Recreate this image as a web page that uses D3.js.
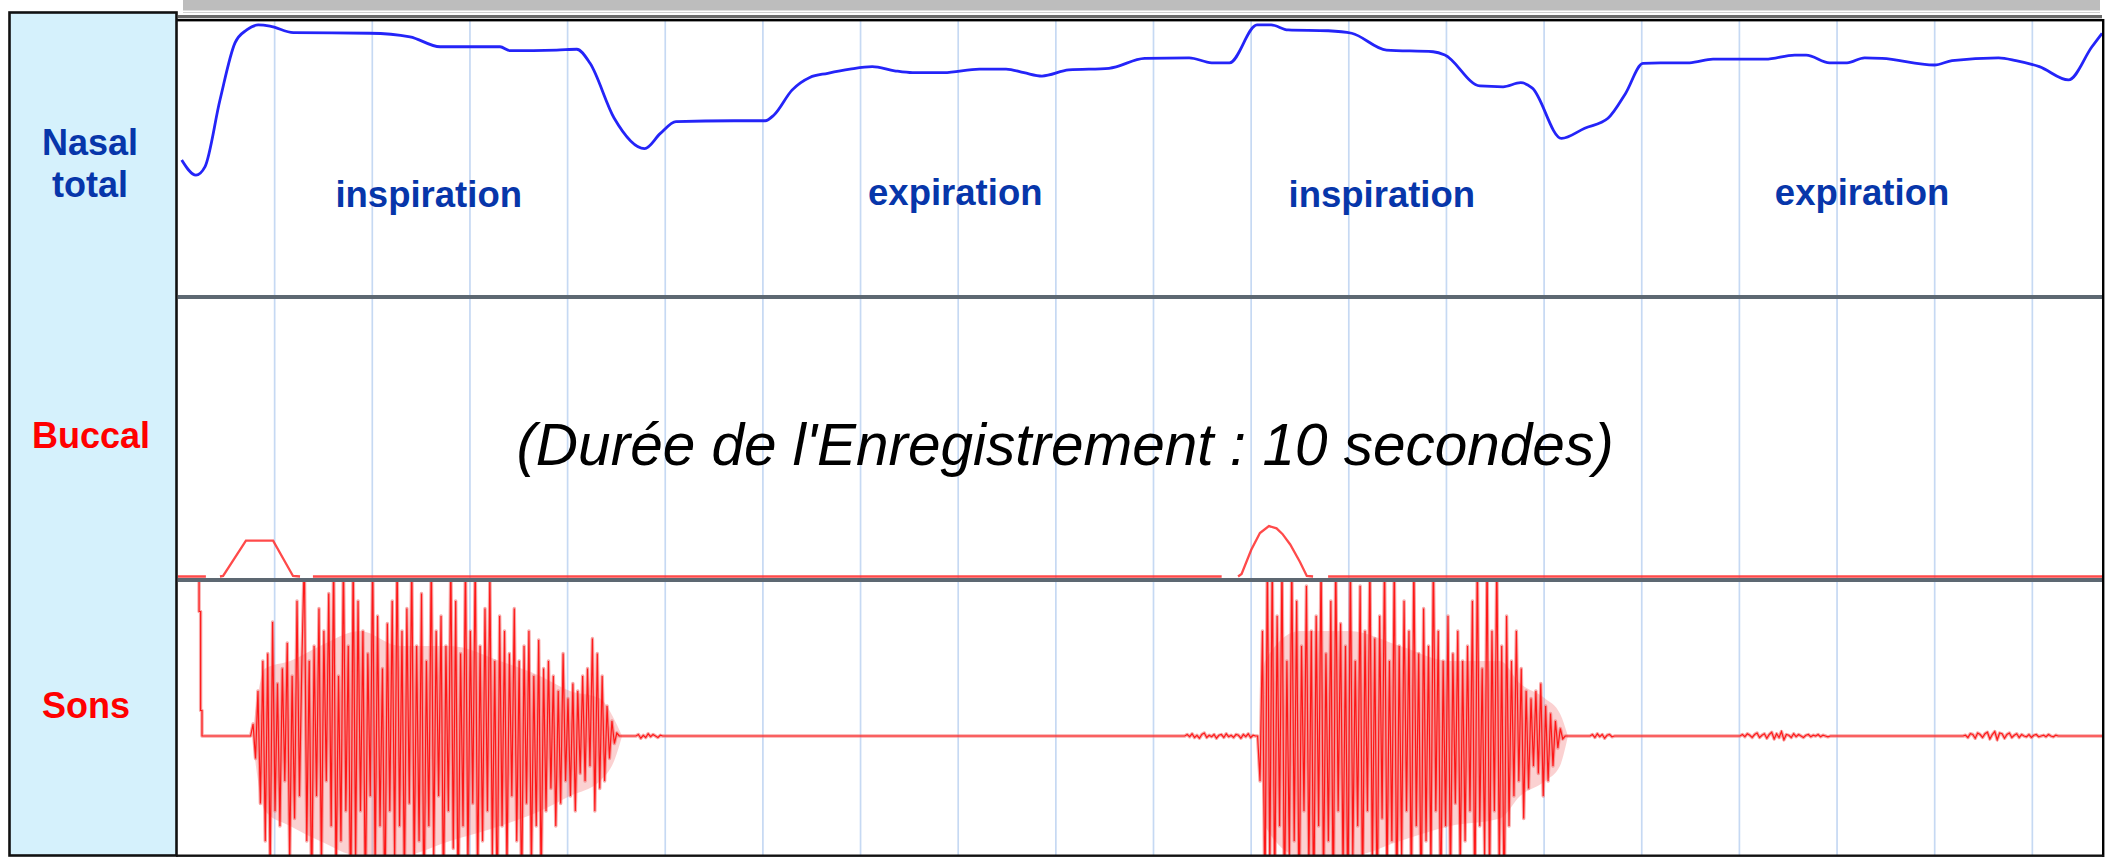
<!DOCTYPE html>
<html><head><meta charset="utf-8">
<script src="https://cdn.jsdelivr.net/npm/d3@7/dist/d3.min.js"></script>
<style>html,body{margin:0;padding:0;background:#fff}svg{display:block}</style>
</head><body>
<script>
// ---------------- DATA ----------------
const panelLabels = [["Nasal","total"],["Buccal"],["Sons"]];
const phaseLabels = ["inspiration","expiration","inspiration","expiration"];
const phaseTimes  = [1.289, 3.985, 6.169, 8.628];
const titleText = "(Durée de l'Enregistrement : 10 secondes)";
const gridStep = 0.5; // seconds
const duration = 9.86;

// Nasal total flow (arbitrary units 0-100)
const nasalT = [0.024,0.097,0.143,0.220,0.297,0.357,0.416,0.476,0.596,0.988,1.193,1.347,1.654,1.705,1.944,2.047,2.115,2.238,2.394,2.475,2.555,2.852,3.012,3.057,3.149,3.240,3.332,3.446,3.560,3.674,3.766,3.926,4.109,4.245,4.337,4.429,4.566,4.772,4.955,5.183,5.298,5.389,5.530,5.602,5.689,5.895,6.015,6.193,6.432,6.492,6.671,6.790,6.880,6.940,7.089,7.208,7.327,7.417,7.506,7.596,7.745,7.865,8.133,8.283,8.342,8.462,8.551,8.641,8.730,8.999,9.089,9.327,9.416,9.536,9.685,9.805,9.857];
const nasalV = [49.3,43.8,46.8,71.0,91.7,96.4,98.2,97.8,95.4,95.2,93.9,90.3,90.3,88.9,89.1,89.4,84.3,64.5,53.4,58.9,63.2,63.5,63.5,65.6,74.6,79.2,80.7,82.2,83.1,81.6,80.9,80.9,82.2,82.2,80.9,79.7,81.9,82.5,86.1,86.3,84.5,84.5,98.2,98.2,96.4,96.1,95.2,89.1,88.5,87.3,76.1,75.8,77.3,75.3,57.1,60.8,64.4,73.4,84.3,84.5,84.5,85.8,85.8,87.3,87.3,84.5,84.5,86.3,86.1,83.7,85.3,86.3,85.3,83.1,78.3,90.3,95.2];

// Buccal flow (null = gap in trace)
const buccalT = [0.005,0.148,0.184,0.220,0.236,0.353,0.492,0.594,0.630,0.663,0.696,5.349,5.390,5.433,5.451,5.500,5.545,5.591,5.630,5.660,5.700,5.750,5.785,5.817,5.855,5.894,9.860];
const buccalV = [0,0,null,0,0.2,12.9,12.9,0.2,0,null,0,0,null,0,0.9,9.5,15.6,18.1,17.3,15.3,11.5,5.2,0.2,0,null,0,0];

// Sound signal (normalised amplitude)
const sampleStep = 0.0125;
const onsetT = [0.005,0.113,0.113,0.121,0.121,0.128,0.128];
const onsetV = [1.2,1.2,0.83,0.83,0.17,0.17,0];
const burst1Start = 0.377;
const burst1 = [0,0.08,-0.15,0.3,-0.45,0.5,-0.7,
 0.55,-0.9,0.76,-0.5,0.35,-0.6,0.45,-0.3,0.62,-0.85,0.4,-0.55,0.9,-0.4,0.5,
 1.2,-0.7,0.5,-1.1,0.6,-0.4,0.85,-0.9,0.7,-0.3,0.95,-0.6,1.2,-1.0,0.4,-0.7,1.2,-0.5,0.6,-1.2,
 1.2,-0.8,0.9,-0.5,0.7,-1.1,0.55,-0.4,1.2,-0.9,0.8,-0.6,0.45,-1.2,0.75,-0.5,0.9,-0.8,1.2,-0.6,
 0.7,-1.0,0.85,-0.45,1.2,-0.9,0.6,-0.7,0.95,-1.2,0.5,-0.6,1.2,-0.8,0.7,-0.4,0.8,-1.1,0.6,-0.5,
 1.2,-0.75,0.9,-1.2,0.55,-0.6,1.2,-0.9,0.7,-0.45,1.2,-1.0,0.6,-0.7,0.85,-0.5,1.1,-0.8,0.5,-1.2,
 0.8,-0.6,0.7,-0.9,0.55,-0.4,0.85,-0.7,0.5,-1.1,0.6,-0.45,0.7,-0.9,0.4,-0.6,0.64,-1.0,0.45,-0.5,
 0.5,-0.35,0.4,-0.6,0.3,-0.45,0.55,-0.3,0.25,-0.4,0.35,-0.5,0.3,-0.25,0.4,
 -0.3,0.45,-0.2,0.65,-0.5,0.55,-0.35,0.4,-0.3,0.2,-0.15,0.1,-0.05,0.02,0];
const burst2Start = 5.533;
const burst2 = [0,-0.3,0.7,-1.2,1.2,-0.9,1.2,
 -1.1,0.8,-0.6,1.2,-1.2,0.5,-0.8,1.2,-0.7,0.9,-1.2,0.6,-0.5,1.0,-0.9,0.7,-1.2,0.8,-0.6,1.2,
 -1.0,0.55,-0.7,0.9,-1.2,1.2,-0.5,0.75,-0.9,0.6,-1.2,1.2,-0.8,0.5,-0.6,1.0,-1.1,0.7,-0.5,1.2,
 -0.9,0.65,-1.2,0.8,-0.55,1.2,-1.0,0.5,-0.7,1.2,-1.2,0.6,-0.8,0.9,-0.5,0.7,-1.1,1.2,-0.6,0.55,
 -1.2,0.85,-0.7,0.6,-0.9,1.2,-0.5,0.7,-1.2,0.5,-0.6,0.8,-1.0,0.55,-0.45,0.7,-0.9,0.5,-0.7,0.6,
 -0.5,0.9,-1.2,1.2,-0.6,0.45,-0.8,1.2,-1.0,0.7,-0.5,1.2,-0.9,0.6,-1.2,
 0.8,-0.6,0.5,-0.4,0.7,-0.3,0.45,-0.55,0.3,-0.35,
 0.25,-0.2,0.3,-0.25,0.35,-0.4,0.2,-0.3,0.15,-0.2,0.1,-0.08,0.05,-0.02,0];
// dense (pink) oscillation envelope of each burst
const env1T = [0.389,0.451,0.579,0.732,0.937,1.142,1.398,1.654,1.859,2.012,2.166,2.243,2.279];
const env1Hi = [0.05,0.45,0.5,0.6,0.7,0.6,0.6,0.5,0.4,0.3,0.25,0.1,0];
const env1Lo = [-0.05,-0.5,-0.6,-0.7,-0.8,-0.8,-0.7,-0.6,-0.5,-0.4,-0.3,-0.15,0];
const env2T = [5.545,5.571,5.750,6.006,6.262,6.518,6.774,6.877,7.005,7.081,7.122];
const env2Hi = [0,0.5,0.7,0.7,0.6,0.5,0.5,0.35,0.25,0.15,0];
const env2Lo = [0,-0.6,-0.8,-0.8,-0.7,-0.6,-0.55,-0.4,-0.3,-0.2,0];
const noiseStarts = [2.35, 5.16, 7.235, 8.003, 9.145];
const noise1 = [0,0.01,-0.015,0.005,-0.01,0.015,-0.005,0.01,0,-0.01,0.005,0];
const noise2 = [0,0.01,-0.005,0.015,-0.01,0.005,-0.015,0.01,0.02,-0.01,0.005,-0.005,0.01,-0.015,0.005,0.01,-0.01,0.015,-0.005,0.005,-0.01,0.01,0.005,-0.015,0.01,-0.005,0.015,-0.01,0.005,0];
const noise3 = [0,0.01,-0.01,0.015,-0.005,0.01,-0.015,0.005,0.01,-0.005,0];
const noise4 = [0,0.01,-0.005,0.015,0.005,-0.01,0.01,0.02,-0.01,0.005,0.015,-0.015,0.01,0.025,-0.02,0.015,-0.01,0.03,-0.025,0.01,0.005,-0.01,0.015,-0.005,0.01,0,-0.01,0.005,0.01,-0.005,0.005,0,0.01,-0.005,0.005,0,-0.005,0];
const noise5 = [0,0.005,-0.01,0.015,0.01,-0.015,0.02,0.01,-0.01,0.015,0.025,-0.02,0.01,0.03,-0.025,0.02,0.015,-0.015,0.01,0.02,-0.01,0.005,0.015,-0.01,0.01,0,-0.005,0.01,-0.01,0.005,0.01,-0.005,0,0.005,-0.005,0.01,0,-0.005,0.005,0,0];

// ---------------- LAYOUT ----------------
const W = 2114, H = 858;
const plotL = 177, plotR = 2103;
const nasalTop = 20, nasalBot = 296;
const bucTop = 299, bucBase = 576.5;
const sonsTop = 582, sonsBot = 855;

const svg = d3.select("body").append("svg").attr("width", W).attr("height", H);
const FONT = "'Liberation Sans', Arial, Helvetica, sans-serif";

const x = d3.scaleLinear().domain([0, duration]).range([plotL, plotL + duration * 195.3]);
const yN = d3.scaleLinear().domain([0, 100]).range([nasalBot, nasalTop]);
const yB = d3.scaleLinear().domain([0, 100]).range([bucBase, bucBase - 278.5]);
const yS = d3.scaleLinear().domain([-1, 1]).range([736 + 150, 736 - 150]);

const defs = svg.append("defs");
defs.append("clipPath").attr("id","cN").append("rect").attr("x",plotL+1).attr("y",nasalTop).attr("width",plotR-plotL-2).attr("height",nasalBot-nasalTop);
defs.append("clipPath").attr("id","cB").append("rect").attr("x",plotL+1).attr("y",bucTop).attr("width",plotR-plotL-2).attr("height",bucBase-bucTop+2);
defs.append("clipPath").attr("id","cS").append("rect").attr("x",plotL+1).attr("y",sonsTop).attr("width",plotR-plotL-2).attr("height",sonsBot-sonsTop);

// top decorations
svg.append("rect").attr("x",183).attr("y",0).attr("width",1917).attr("height",10.5).attr("fill","#bdbdbd");
svg.append("line").attr("x1",183).attr("x2",2100).attr("y1",12.5).attr("y2",12.5).attr("stroke","#d0d0d0").attr("stroke-width",1);
svg.append("rect").attr("x",178).attr("y",15).attr("width",1924).attr("height",3.3).attr("fill","#6a6a6a");

// grid (every 0.5 s)
const gridTicks = d3.range(gridStep, duration, gridStep);
svg.append("g").selectAll("line").data(gridTicks).join("line")
  .attr("x1", d => x(d)).attr("x2", d => x(d))
  .attr("y1", nasalTop).attr("y2", sonsBot)
  .attr("stroke", "#c6d9f3").attr("stroke-width", 1.7);

// nasal curve
const nasalData = nasalT.map((t,i)=>({t, v: nasalV[i]}));
svg.append("path").datum(nasalData).attr("clip-path","url(#cN)")
  .attr("d", d3.line().x(d=>x(d.t)).y(d=>yN(d.v)).curve(d3.curveMonotoneX))
  .attr("fill","none").attr("stroke","#2424f8").attr("stroke-width",2.8).attr("stroke-linejoin","round");

// phase labels
svg.append("g").selectAll("text").data(phaseLabels).join("text")
  .attr("x", (d,i) => x(phaseTimes[i]))
  .attr("y", (d,i) => d === "inspiration" ? 207 : 205)
  .attr("text-anchor","middle").attr("font-family",FONT).attr("font-weight","bold")
  .attr("font-size",36.5).attr("fill","#0736aa").text(d=>d);

// sons signal
const sonsData = [];
onsetT.forEach((t,i)=>sonsData.push({t, v: onsetV[i]}));
function addSeg(start, vals){ vals.forEach((v,i)=>sonsData.push({t: start + i*sampleStep, v})); }
addSeg(burst1Start, burst1);
addSeg(noiseStarts[0], noise1);
addSeg(noiseStarts[1], noise2);
addSeg(burst2Start, burst2);
addSeg(noiseStarts[2], noise3);
addSeg(noiseStarts[3], noise4);
addSeg(noiseStarts[4], noise5);
sonsData.push({t: duration, v: 0});
const sLine = d3.line().x(d=>x(d.t)).y(d=>yS(d.v));
const gS = svg.append("g").attr("clip-path","url(#cS)");
const envArea = d3.area().x(d=>x(d.t)).y0(d=>yS(d.lo)).y1(d=>yS(d.hi)).curve(d3.curveMonotoneX);
[[env1T,env1Hi,env1Lo],[env2T,env2Hi,env2Lo]].forEach(([T,Hi,Lo])=>{
  gS.append("path").datum(T.map((t,i)=>({t, hi: Hi[i], lo: Lo[i]})))
    .attr("d", envArea).attr("fill","#f47a7a").attr("fill-opacity",0.35);
});
gS.append("path").datum(sonsData).attr("d", sLine).attr("fill","none")
  .attr("stroke","#f26e6e").attr("stroke-width",3.4).attr("stroke-opacity",0.6).attr("stroke-linejoin","round");
gS.append("path").datum(sonsData).attr("d", sLine).attr("fill","none")
  .attr("stroke","#ff0000").attr("stroke-width",1.2).attr("stroke-opacity",0.85);

// separators
svg.append("rect").attr("x",178).attr("y",295).attr("width",1925).attr("height",4).attr("fill","#5d6872");
svg.append("rect").attr("x",178).attr("y",578).attr("width",1925).attr("height",4).attr("fill","#5d6872");

// buccal trace
const buccalData = buccalT.map((t,i)=>({t, v: buccalV[i]}));
svg.append("path").datum(buccalData).attr("clip-path","url(#cB)")
  .attr("d", d3.line().defined(d=>d.v!==null).x(d=>x(d.t)).y(d=>yB(d.v)))
  .attr("fill","none").attr("stroke","#ff2a2a").attr("stroke-width",2.3).attr("stroke-opacity",0.85);

// title
svg.append("text").attr("x",1065).attr("y",465).attr("text-anchor","middle")
  .attr("font-family",FONT).attr("font-style","italic").attr("font-size",58.5)
  .attr("fill","#000").text(titleText);

// chart frame
svg.append("rect").attr("x",174).attr("y",19).attr("width",1930).attr("height",2.4).attr("fill","#000");
svg.append("rect").attr("x",2102).attr("y",19).attr("width",2.4).attr("height",838).attr("fill","#000");
svg.append("rect").attr("x",176).attr("y",854.5).attr("width",1928).attr("height",2.4).attr("fill","#111");

// left label panel
svg.append("rect").attr("x",9.5).attr("y",12.5).attr("width",167).attr("height",843)
  .attr("fill","#d5f1fc").attr("stroke","#111").attr("stroke-width",2.6);
const labelPos = [[90,155,196.7],[91,448],[86,718]];
const labelColors = ["#0736aa","#ff0000","#ff0000"];
panelLabels.forEach((lines,i)=>{
  lines.forEach((s,j)=>{
    svg.append("text").attr("x",labelPos[i][0]).attr("y",labelPos[i][1+j])
      .attr("text-anchor","middle").attr("font-family",FONT).attr("font-weight","bold")
      .attr("font-size",36).attr("fill",labelColors[i]).text(s);
  });
});
</script>
</body></html>
